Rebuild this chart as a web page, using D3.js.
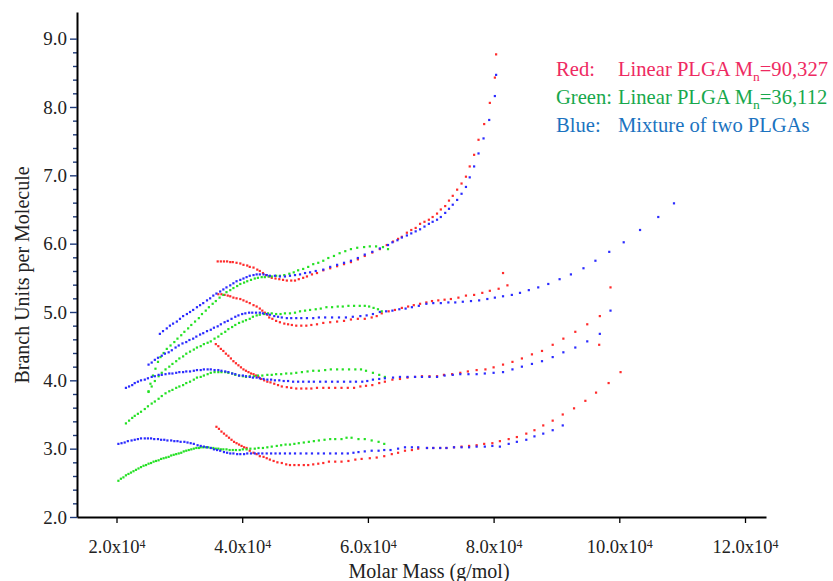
<!DOCTYPE html>
<html>
<head>
<meta charset="utf-8">
<script src="https://cdn.jsdelivr.net/npm/d3@7"></script>
<style>
  body { margin: 0; background: #fff; }
  svg { display: block; }
</style>
</head>
<body>
<svg id="chart" width="833" height="581"></svg>
<script>
// molar mass in units of 1e4 g/mol, branch units per molecule
const red1 = [[3.61,5.74],[3.66,5.74],[3.71,5.74],[3.76,5.74],[3.81,5.73],[3.85,5.73],[3.91,5.72],[3.97,5.71],[4.02,5.69],[4.08,5.68],[4.12,5.66],[4.18,5.65],[4.24,5.62],[4.28,5.60],[4.33,5.57],[4.38,5.54],[4.43,5.52],[4.47,5.50],[4.53,5.49],[4.59,5.48],[4.65,5.47],[4.71,5.46],[4.78,5.46],[4.84,5.46],[4.90,5.48],[4.97,5.50],[5.03,5.52],[5.11,5.55],[5.19,5.57],[5.29,5.61],[5.40,5.64],[5.51,5.67],[5.62,5.70],[5.73,5.73],[5.84,5.77],[5.95,5.82],[6.07,5.87],[6.19,5.92],[6.30,5.98],[6.40,6.03],[6.48,6.07],[6.54,6.10],[6.62,6.16],[6.69,6.20],[6.76,6.23],[6.83,6.29],[6.90,6.32],[6.97,6.35],[7.03,6.39],[7.10,6.44],[7.16,6.50],[7.23,6.55],[7.29,6.63],[7.35,6.70],[7.42,6.79],[7.49,6.88],[7.56,6.98],[7.62,7.13],[7.69,7.30],[7.76,7.52],[7.85,7.75],[7.94,8.06],[8.02,8.43],[8.04,8.77]];
const red2 = [[3.62,5.26],[3.67,5.26],[3.72,5.25],[3.77,5.24],[3.81,5.23],[3.86,5.21],[3.91,5.20],[3.97,5.19],[4.02,5.17],[4.07,5.15],[4.12,5.13],[4.18,5.10],[4.23,5.08],[4.28,5.05],[4.32,5.02],[4.36,4.99],[4.40,4.96],[4.43,4.92],[4.48,4.90],[4.54,4.87],[4.60,4.85],[4.67,4.83],[4.73,4.82],[4.79,4.81],[4.86,4.80],[4.94,4.80],[5.02,4.80],[5.10,4.81],[5.19,4.82],[5.29,4.84],[5.40,4.85],[5.51,4.86],[5.62,4.87],[5.73,4.89],[5.84,4.90],[5.95,4.90],[6.06,4.92],[6.14,4.94],[6.22,4.98],[6.33,5.01],[6.43,5.03],[6.54,5.06],[6.64,5.08],[6.73,5.10],[6.83,5.12],[6.93,5.14],[7.02,5.16],[7.12,5.17],[7.22,5.18],[7.32,5.19],[7.44,5.21],[7.56,5.24],[7.69,5.25],[7.82,5.28],[7.94,5.31],[8.08,5.34],[8.15,5.57],[8.22,5.39]];
const red3 = [[3.58,4.53],[3.62,4.50],[3.66,4.46],[3.70,4.43],[3.74,4.39],[3.78,4.36],[3.82,4.32],[3.86,4.28],[3.90,4.25],[3.94,4.22],[3.98,4.19],[4.02,4.16],[4.06,4.14],[4.10,4.12],[4.14,4.10],[4.18,4.09],[4.22,4.07],[4.26,4.05],[4.30,4.02],[4.35,4.00],[4.40,3.98],[4.45,3.97],[4.51,3.95],[4.57,3.93],[4.63,3.91],[4.71,3.90],[4.78,3.89],[4.86,3.88],[4.94,3.88],[5.02,3.88],[5.10,3.88],[5.19,3.89],[5.29,3.89],[5.38,3.89],[5.48,3.89],[5.58,3.89],[5.68,3.89],[5.78,3.89],[5.88,3.91],[5.97,3.92],[6.07,3.93],[6.18,3.96],[6.27,3.98],[6.39,4.01],[6.51,4.02],[6.63,4.04],[6.75,4.05],[6.86,4.06],[6.98,4.06],[7.10,4.06],[7.21,4.08],[7.34,4.09],[7.47,4.11],[7.59,4.13],[7.73,4.15],[7.87,4.16],[8.00,4.19],[8.15,4.23],[8.30,4.27],[8.45,4.32],[8.61,4.38],[8.77,4.43],[8.94,4.52],[9.11,4.61],[9.30,4.71],[9.49,4.82],[9.68,4.52],[9.69,4.94],[9.86,5.36]];
const red4 = [[3.59,3.32],[3.63,3.29],[3.67,3.25],[3.71,3.22],[3.75,3.19],[3.79,3.16],[3.83,3.13],[3.87,3.10],[3.91,3.08],[3.95,3.06],[3.99,3.04],[4.03,3.02],[4.07,3.01],[4.12,2.97],[4.18,2.94],[4.23,2.92],[4.28,2.89],[4.34,2.88],[4.39,2.86],[4.44,2.84],[4.50,2.82],[4.56,2.80],[4.63,2.79],[4.70,2.77],[4.76,2.76],[4.83,2.76],[4.90,2.76],[4.98,2.76],[5.05,2.76],[5.13,2.77],[5.21,2.78],[5.29,2.79],[5.38,2.81],[5.48,2.81],[5.58,2.81],[5.69,2.82],[5.80,2.84],[5.90,2.85],[6.03,2.86],[6.14,2.87],[6.26,2.89],[6.38,2.92],[6.48,2.94],[6.59,2.97],[6.70,2.98],[6.80,3.00],[6.94,3.01],[7.04,3.01],[7.15,3.01],[7.25,3.01],[7.37,3.02],[7.49,3.03],[7.61,3.04],[7.73,3.05],[7.85,3.07],[7.98,3.08],[8.10,3.11],[8.24,3.14],[8.37,3.17],[8.52,3.22],[8.65,3.27],[8.79,3.34],[8.94,3.41],[9.10,3.50],[9.28,3.59],[9.46,3.70],[9.63,3.82],[9.83,3.96],[10.02,4.12]];

const green1 = [[2.51,3.84],[2.54,3.95],[2.58,4.07],[2.62,4.17],[2.66,4.27],[2.70,4.34],[2.75,4.40],[2.80,4.46],[2.86,4.51],[2.92,4.56],[2.97,4.61],[3.03,4.66],[3.08,4.71],[3.14,4.76],[3.19,4.81],[3.25,4.86],[3.31,4.91],[3.36,4.97],[3.42,5.02],[3.47,5.07],[3.53,5.12],[3.58,5.16],[3.64,5.21],[3.70,5.25],[3.75,5.29],[3.81,5.32],[3.86,5.35],[3.92,5.38],[3.97,5.41],[4.03,5.43],[4.08,5.45],[4.14,5.47],[4.20,5.49],[4.25,5.50],[4.31,5.51],[4.36,5.51],[4.42,5.52],[4.47,5.52],[4.54,5.53],[4.60,5.53],[4.67,5.54],[4.75,5.56],[4.82,5.58],[4.89,5.61],[4.97,5.63],[5.05,5.66],[5.13,5.70],[5.21,5.72],[5.29,5.75],[5.37,5.79],[5.46,5.82],[5.55,5.86],[5.64,5.89],[5.73,5.92],[5.83,5.94],[5.94,5.95],[6.03,5.96],[6.13,5.96],[6.24,5.95],[6.32,5.92]];
const green2 = [[2.51,3.83],[2.56,3.91],[2.61,3.99],[2.67,4.06],[2.72,4.11],[2.78,4.16],[2.84,4.20],[2.89,4.24],[2.95,4.28],[3.00,4.32],[3.06,4.35],[3.11,4.39],[3.17,4.42],[3.23,4.45],[3.28,4.48],[3.34,4.50],[3.39,4.53],[3.45,4.55],[3.50,4.57],[3.56,4.61],[3.62,4.64],[3.67,4.68],[3.73,4.71],[3.78,4.75],[3.84,4.78],[3.89,4.81],[3.95,4.84],[4.01,4.86],[4.06,4.88],[4.12,4.90],[4.17,4.93],[4.23,4.95],[4.28,4.96],[4.35,4.97],[4.41,4.98],[4.47,4.98],[4.54,4.97],[4.61,4.97],[4.68,4.98],[4.76,4.98],[4.84,4.99],[4.92,5.01],[5.00,5.02],[5.08,5.03],[5.17,5.04],[5.25,5.05],[5.34,5.07],[5.43,5.07],[5.52,5.08],[5.60,5.08],[5.69,5.09],[5.78,5.09],[5.87,5.09],[5.95,5.09],[6.02,5.08],[6.09,5.06],[6.16,5.04],[6.22,5.01]];
const green3 = [[2.15,3.37],[2.20,3.41],[2.25,3.45],[2.29,3.48],[2.34,3.51],[2.39,3.54],[2.45,3.58],[2.50,3.62],[2.56,3.66],[2.61,3.69],[2.67,3.73],[2.72,3.77],[2.78,3.81],[2.84,3.84],[2.89,3.86],[2.95,3.89],[3.00,3.91],[3.06,3.93],[3.11,3.96],[3.17,3.98],[3.23,4.01],[3.28,4.04],[3.34,4.05],[3.39,4.07],[3.45,4.09],[3.50,4.11],[3.56,4.12],[3.62,4.12],[3.67,4.12],[3.73,4.12],[3.78,4.11],[3.84,4.10],[3.89,4.08],[3.95,4.07],[4.01,4.06],[4.06,4.05],[4.12,4.06],[4.19,4.06],[4.25,4.07],[4.32,4.07],[4.40,4.08],[4.47,4.08],[4.54,4.09],[4.62,4.09],[4.70,4.10],[4.78,4.10],[4.86,4.11],[4.95,4.12],[5.04,4.13],[5.13,4.14],[5.22,4.14],[5.32,4.15],[5.41,4.16],[5.51,4.16],[5.60,4.16],[5.70,4.16],[5.80,4.16],[5.89,4.16],[5.97,4.14],[6.08,4.11],[6.18,4.08],[6.27,4.05]];
const green4 = [[2.03,2.53],[2.07,2.56],[2.11,2.58],[2.15,2.61],[2.19,2.63],[2.23,2.65],[2.27,2.67],[2.31,2.69],[2.35,2.71],[2.39,2.73],[2.43,2.75],[2.47,2.76],[2.51,2.78],[2.55,2.79],[2.59,2.81],[2.63,2.82],[2.67,2.83],[2.71,2.85],[2.75,2.86],[2.79,2.87],[2.83,2.88],[2.87,2.90],[2.91,2.91],[2.95,2.92],[2.99,2.93],[3.03,2.94],[3.07,2.96],[3.11,2.97],[3.15,2.98],[3.19,2.99],[3.23,3.00],[3.27,3.01],[3.31,3.01],[3.34,3.02],[3.38,3.02],[3.42,3.02],[3.46,3.02],[3.50,3.01],[3.54,3.01],[3.58,3.00],[3.62,3.00],[3.66,2.99],[3.70,2.99],[3.75,2.99],[3.80,2.98],[3.85,2.98],[3.90,2.98],[3.96,2.98],[4.01,2.99],[4.07,2.99],[4.13,3.00],[4.20,3.00],[4.26,3.01],[4.33,3.01],[4.40,3.02],[4.47,3.03],[4.55,3.04],[4.62,3.05],[4.69,3.06],[4.76,3.06],[4.83,3.07],[4.90,3.08],[4.98,3.09],[5.06,3.10],[5.14,3.11],[5.22,3.12],[5.31,3.13],[5.40,3.14],[5.48,3.14],[5.58,3.14],[5.66,3.16],[5.74,3.16],[5.85,3.14],[5.95,3.14],[6.06,3.12],[6.17,3.10],[6.26,3.07]];

const blue1 = [[2.69,4.68],[2.74,4.72],[2.80,4.76],[2.85,4.80],[2.90,4.83],[2.96,4.86],[3.01,4.90],[3.06,4.94],[3.12,4.97],[3.17,5.00],[3.22,5.03],[3.28,5.07],[3.33,5.10],[3.38,5.13],[3.44,5.17],[3.49,5.20],[3.54,5.24],[3.59,5.27],[3.65,5.30],[3.70,5.33],[3.75,5.36],[3.81,5.39],[3.86,5.42],[3.91,5.45],[3.97,5.47],[4.02,5.49],[4.07,5.51],[4.12,5.53],[4.18,5.54],[4.23,5.55],[4.28,5.55],[4.34,5.55],[4.39,5.54],[4.44,5.53],[4.52,5.53],[4.60,5.52],[4.68,5.52],[4.76,5.53],[4.84,5.54],[4.92,5.55],[5.00,5.57],[5.08,5.58],[5.17,5.60],[5.29,5.62],[5.40,5.66],[5.51,5.69],[5.62,5.72],[5.73,5.75],[5.84,5.79],[5.95,5.84],[6.07,5.88],[6.19,5.93],[6.32,5.98],[6.39,6.02],[6.47,6.05],[6.54,6.09],[6.62,6.12],[6.69,6.15],[6.76,6.18],[6.83,6.21],[6.90,6.25],[6.97,6.29],[7.03,6.32],[7.10,6.35],[7.16,6.39],[7.23,6.45],[7.29,6.51],[7.35,6.57],[7.42,6.64],[7.49,6.73],[7.56,6.83],[7.62,6.97],[7.69,7.13],[7.76,7.32],[7.84,7.54],[7.93,7.81],[8.02,8.16],[8.04,8.47]];
const blue2 = [[2.51,4.23],[2.56,4.26],[2.61,4.30],[2.66,4.33],[2.72,4.36],[2.77,4.39],[2.83,4.41],[2.88,4.44],[2.94,4.48],[2.99,4.51],[3.05,4.54],[3.11,4.56],[3.16,4.59],[3.22,4.61],[3.27,4.64],[3.33,4.67],[3.38,4.69],[3.44,4.72],[3.50,4.74],[3.55,4.77],[3.61,4.79],[3.66,4.82],[3.72,4.85],[3.77,4.87],[3.83,4.90],[3.89,4.93],[3.94,4.95],[4.00,4.97],[4.05,4.98],[4.11,4.99],[4.16,4.99],[4.22,4.99],[4.28,4.99],[4.33,4.98],[4.39,4.97],[4.44,4.96],[4.51,4.94],[4.57,4.93],[4.63,4.92],[4.71,4.91],[4.78,4.91],[4.86,4.91],[4.94,4.91],[5.03,4.91],[5.13,4.91],[5.22,4.92],[5.32,4.92],[5.43,4.92],[5.54,4.92],[5.65,4.92],[5.76,4.93],[5.88,4.94],[5.98,4.95],[6.08,4.97],[6.19,5.00],[6.29,5.01],[6.39,5.02],[6.50,5.04],[6.60,5.05],[6.70,5.07],[6.81,5.09],[6.93,5.12],[7.04,5.13],[7.16,5.13],[7.28,5.14],[7.39,5.14],[7.51,5.15],[7.64,5.16],[7.77,5.17],[7.90,5.19],[8.02,5.21],[8.15,5.23],[8.29,5.25],[8.42,5.28],[8.56,5.32],[8.71,5.36],[8.87,5.41],[9.05,5.48],[9.23,5.55],[9.43,5.64],[9.62,5.75],[9.84,5.88],[10.07,6.02],[10.33,6.20],[10.62,6.39],[10.87,6.59]];
const blue3 = [[2.15,3.89],[2.20,3.91],[2.25,3.93],[2.29,3.96],[2.34,3.98],[2.39,4.00],[2.45,4.01],[2.50,4.03],[2.56,4.05],[2.61,4.06],[2.67,4.08],[2.72,4.08],[2.78,4.09],[2.84,4.10],[2.89,4.10],[2.95,4.11],[3.00,4.12],[3.06,4.12],[3.11,4.13],[3.17,4.13],[3.23,4.14],[3.28,4.15],[3.34,4.15],[3.39,4.16],[3.45,4.16],[3.50,4.16],[3.56,4.15],[3.62,4.15],[3.67,4.14],[3.73,4.13],[3.78,4.12],[3.84,4.10],[3.89,4.09],[3.95,4.07],[4.01,4.07],[4.06,4.06],[4.12,4.05],[4.17,4.04],[4.23,4.04],[4.28,4.03],[4.34,4.02],[4.40,4.01],[4.46,4.01],[4.52,4.00],[4.59,4.00],[4.66,3.99],[4.73,3.99],[4.81,3.98],[4.89,3.98],[4.97,3.98],[5.06,3.98],[5.14,3.98],[5.24,3.98],[5.33,3.98],[5.43,3.98],[5.52,3.98],[5.62,3.98],[5.72,3.98],[5.81,3.98],[5.91,3.98],[5.99,3.99],[6.08,4.01],[6.18,4.02],[6.27,4.03],[6.40,4.04],[6.51,4.05],[6.63,4.05],[6.75,4.05],[6.86,4.05],[6.98,4.05],[7.10,4.05],[7.22,4.07],[7.35,4.08],[7.47,4.09],[7.60,4.09],[7.73,4.09],[7.86,4.10],[8.00,4.11],[8.15,4.12],[8.30,4.16],[8.45,4.20],[8.61,4.24],[8.77,4.28],[8.94,4.34],[9.11,4.41],[9.30,4.48],[9.49,4.57],[9.69,4.68],[9.86,5.02]];
const blue4 = [[2.03,3.07],[2.08,3.08],[2.13,3.09],[2.18,3.11],[2.24,3.12],[2.29,3.13],[2.34,3.14],[2.39,3.15],[2.45,3.15],[2.50,3.15],[2.55,3.15],[2.60,3.14],[2.66,3.14],[2.71,3.13],[2.76,3.13],[2.81,3.12],[2.87,3.12],[2.92,3.11],[2.97,3.11],[3.02,3.10],[3.08,3.10],[3.13,3.09],[3.18,3.08],[3.23,3.07],[3.29,3.05],[3.34,3.04],[3.39,3.03],[3.44,3.02],[3.50,3.01],[3.55,2.99],[3.60,2.98],[3.65,2.97],[3.71,2.95],[3.76,2.94],[3.81,2.93],[3.86,2.93],[3.92,2.92],[3.97,2.92],[4.03,2.92],[4.08,2.93],[4.14,2.93],[4.20,2.93],[4.26,2.93],[4.32,2.93],[4.39,2.93],[4.46,2.93],[4.53,2.93],[4.60,2.93],[4.68,2.93],[4.76,2.93],[4.84,2.93],[4.93,2.93],[5.02,2.93],[5.11,2.93],[5.21,2.93],[5.30,2.93],[5.40,2.93],[5.49,2.93],[5.59,2.93],[5.68,2.93],[5.77,2.94],[5.85,2.95],[5.95,2.96],[6.06,2.97],[6.17,2.97],[6.26,2.98],[6.36,2.98],[6.48,3.00],[6.59,3.02],[6.70,3.02],[6.80,3.02],[6.94,3.01],[7.04,3.01],[7.15,3.01],[7.25,3.01],[7.37,3.02],[7.49,3.02],[7.61,3.02],[7.73,3.03],[7.86,3.03],[7.98,3.04],[8.10,3.03],[8.24,3.07],[8.37,3.10],[8.52,3.13],[8.65,3.18],[8.79,3.22],[8.94,3.27],[9.10,3.34]];

const xTicks = [2, 4, 6, 8, 10, 12];
const yTicks = [2, 3, 4, 5, 6, 7, 8, 9];
const yMinorTicks = d3.range(2.2, 8.9, 0.2).filter(v => Math.abs(v - Math.round(v)) > 0.05);

const legendRows = [
  { name: "Red:", text: "Linear PLGA M", sub: "n", tail: "=90,327" },
  { name: "Green:", text: "Linear PLGA M", sub: "n", tail: "=36,112" },
  { name: "Blue:", text: "Mixture of two PLGAs", sub: "", tail: "" }
];

const font = '"Liberation Serif", "Times New Roman", serif';
const dotColors = { red: "#ff2b2b", green: "#25e025", blue: "#2b2bff" };
const legendColors = ["#ee2a62", "#17a84c", "#1b73c0"];

const svg = d3.select("#chart");
const x = d3.scaleLinear().domain([1.3715, 12.334]).range([77, 766]);
const y = d3.scaleLinear().domain([2, 9.39]).range([517, 12]);

// dots
const series = [
  { pts: red1, c: dotColors.red }, { pts: red2, c: dotColors.red },
  { pts: red3, c: dotColors.red }, { pts: red4, c: dotColors.red },
  { pts: green1, c: dotColors.green }, { pts: green2, c: dotColors.green },
  { pts: green3, c: dotColors.green }, { pts: green4, c: dotColors.green },
  { pts: blue1, c: dotColors.blue }, { pts: blue2, c: dotColors.blue },
  { pts: blue3, c: dotColors.blue }, { pts: blue4, c: dotColors.blue }
];
const s = 2.2;
series.forEach(sr => {
  svg.append("g").attr("fill", sr.c)
    .selectAll("rect")
    .data(sr.pts)
    .join("rect")
    .attr("x", d => x(d[0]) - s / 2)
    .attr("y", d => y(d[1]) - s / 2)
    .attr("width", s)
    .attr("height", s);
});

// y axis
const yMinor = svg.append("g").attr("transform", "translate(77,0)")
  .call(d3.axisLeft(y).tickValues(yMinorTicks).tickSize(4).tickFormat(""));
yMinor.select(".domain").remove();
yMinor.selectAll(".tick line").attr("stroke", "#1f3b7a").attr("stroke-width", 1.4);

const yAxis = svg.append("g").attr("transform", "translate(77,0)")
  .call(d3.axisLeft(y).tickValues(yTicks).tickFormat(d3.format(".1f")).tickSize(7).tickSizeOuter(0).tickPadding(3))
  .attr("font-family", font).attr("font-size", 19);
yAxis.selectAll(".tick line").attr("stroke", "#1f3b7a").attr("stroke-width", 1.4);
yAxis.select(".domain").attr("stroke", "#000").attr("stroke-width", 2);
yAxis.selectAll(".tick text").attr("fill", "#222");

// x axis
const xAxis = svg.append("g").attr("transform", "translate(0,517)")
  .call(d3.axisBottom(x).tickValues(xTicks).tickSize(6).tickSizeOuter(0).tickPadding(17))
  .attr("font-family", font).attr("font-size", 18.5);
xAxis.select(".domain").attr("stroke", "#000").attr("stroke-width", 2);
xAxis.selectAll(".tick line").attr("stroke", "#000").attr("stroke-width", 1.3);
xAxis.selectAll(".tick text").attr("fill", "#222").text(null).each(function (d) {
  const t = d3.select(this);
  t.append("tspan").text(d.toFixed(1) + "x10");
  t.append("tspan").attr("dy", "-0.45em").attr("font-size", 12).text("4");
});

// axis titles
svg.append("text")
  .attr("transform", "translate(29,275) rotate(-90)")
  .attr("text-anchor", "middle")
  .attr("font-family", font).attr("font-size", 20).attr("fill", "#222")
  .text("Branch Units per Molecule");
svg.append("text")
  .attr("x", 429).attr("y", 578)
  .attr("text-anchor", "middle")
  .attr("font-family", font).attr("font-size", 20).attr("fill", "#222")
  .text("Molar Mass (g/mol)");

// legend
const legend = svg.append("g").attr("font-family", font).attr("font-size", 20.6);
legendRows.forEach((r, i) => {
  const yy = 76 + i * 27.8;
  const name = legend.append("text").attr("x", 556).attr("y", yy).attr("fill", legendColors[i]).text(r.name);
  const x2 = Math.max(618, 556 + name.node().getComputedTextLength() + 5);
  const t = legend.append("text").attr("x", x2).attr("y", yy).attr("fill", legendColors[i]);
  t.append("tspan").text(r.text);
  if (r.sub) {
    t.append("tspan").attr("dy", 5).attr("font-size", 13.5).text(r.sub);
    t.append("tspan").attr("dy", -5).text(r.tail);
  }
});
</script>
</body>
</html>
